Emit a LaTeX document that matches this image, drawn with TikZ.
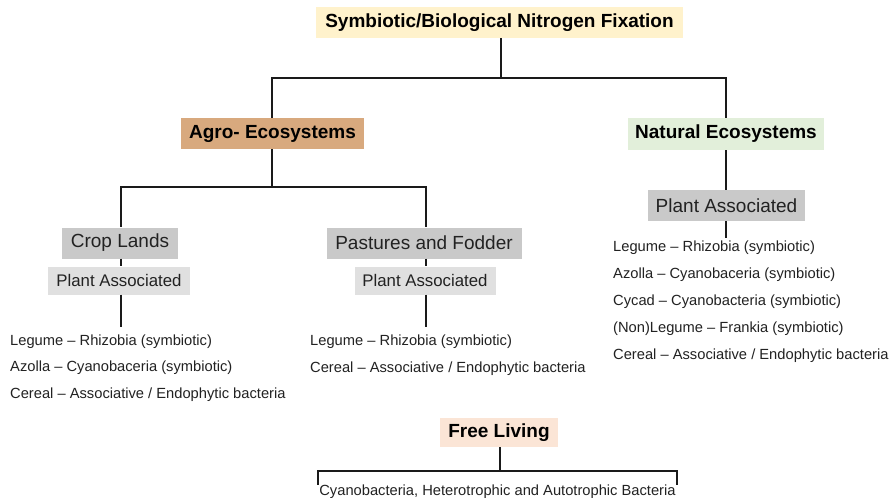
\documentclass[tikz,border=0pt]{standalone}
\usepackage{fontspec}
\setmainfont{Liberation Sans}
\definecolor{yel}{HTML}{FFF2CC}
\definecolor{tan}{HTML}{D8A97E}
\definecolor{grn}{HTML}{E2EFDA}
\definecolor{peach}{HTML}{FBE5D6}
\definecolor{grayA}{HTML}{C9C9C9}
\definecolor{grayB}{HTML}{E0E0E0}
\definecolor{txt}{HTML}{222222}
\definecolor{lineC}{HTML}{1A1A1A}
\begin{document}
\begin{tikzpicture}[x=1pt,y=-1pt,
  box/.style={inner sep=0pt, anchor=center},
  head/.style={box, text=black, font=\fontsize{19}{22}\selectfont\bfseries},
  subbox/.style={box, fill=grayA, text=txt, font=\fontsize{19}{22}\selectfont},
  smallbox/.style={box, fill=grayB, text=txt, font=\fontsize{16.8}{20}\selectfont},
  item/.style={anchor=base west, inner sep=0pt, text=txt, font=\fontsize{14.7}{17}\selectfont},
  conn/.style={line width=2pt, draw=lineC}]
\fill[white] (0,0) rectangle (889,498);
\useasboundingbox (0,0) rectangle (889,498);

% boxes
\node[head, fill=yel, minimum width=367pt, minimum height=31pt] (title) at (499.5,22.5) {Symbiotic/Biological Nitrogen Fixation};
\node[head, fill=tan, minimum width=183pt, minimum height=31pt] (agro) at (272.5,133.5) {Agro- Ecosystems};
\node[head, fill=grn, minimum width=196pt, minimum height=32pt] (nat) at (726,134) {Natural Ecosystems};
\node[subbox, minimum width=116pt, minimum height=31pt] (crop) at (120,243) {Crop Lands};
\node[subbox, minimum width=195pt, minimum height=31pt] (past) at (424,243) {Pastures and Fodder};
\node[smallbox, minimum width=142pt, minimum height=28pt] (pa1) at (119,280.5) {Plant Associated};
\node[smallbox, minimum width=141pt, minimum height=28pt] (pa2) at (425,280.5) {Plant Associated};
\node[subbox, minimum width=157pt, minimum height=31pt] (npa) at (726.5,205.5) {Plant Associated};
\node[head, fill=peach, minimum width=118pt, minimum height=29pt] (free) at (499,432.5) {Free Living};

% free ends
\coordinate (e1) at (120,327);
\coordinate (e2) at (425,327);
\coordinate (e3) at (726,238);
\coordinate (fl) at (318,485);
\coordinate (fr) at (677,485);

% connectors
\draw[conn] (title.south -| 501,0) -- (501,78) -| (agro.north -| 272,0);
\draw[conn] (501,78) -| (nat.north);
\draw[conn] (agro.south -| 272,0) -- (272,187) -| (crop.north -| 121,0);
\draw[conn] (272,187) -| (past.north -| 426,0);
\draw[conn] (crop.south -| 121,0) -- (pa1.north -| 121,0);
\draw[conn] (pa1.south -| 121,0) -- (e1 -| 121,0);
\draw[conn] (past.south -| 426,0) -- (pa2.north -| 426,0);
\draw[conn] (pa2.south -| 426,0) -- (e2 -| 426,0);
\draw[conn] (nat.south) -- (npa.north -| nat.south);
\draw[conn] (npa.south -| nat.south) -- (e3 -| nat.south);
\draw[conn] (free.south -| 500,0) -- (500,471) -| (fl);
\draw[conn] (500,471) -| (fr);

% lists
\node[item] (l1) at (10,345) {Legume – Rhizobia (symbiotic)};
\node[item] (l2) at (10,371.5) {Azolla – Cyanobaceria (symbiotic)};
\node[item] (l3) at (10,398) {Cereal – Associative / Endophytic bacteria};
\node[item] (m1) at (310,345) {Legume – Rhizobia (symbiotic)};
\node[item] (m2) at (310,372) {Cereal – Associative / Endophytic bacteria};
\node[item] (r1) at (613,251) {Legume – Rhizobia (symbiotic)};
\node[item] (r2) at (613,278) {Azolla – Cyanobaceria (symbiotic)};
\node[item] (r3) at (613,305) {Cycad – Cyanobacteria (symbiotic)};
\node[item] (r4) at (613,332) {(Non)Legume – Frankia (symbiotic)};
\node[item] (r5) at (613,359) {Cereal – Associative / Endophytic bacteria};
\node[anchor=base, inner sep=0pt, text=txt, font=\fontsize{14.7}{17}\selectfont] (fb) at (497.5,495.5) {Cyanobacteria, Heterotrophic and Autotrophic Bacteria};
\end{tikzpicture}
\end{document}
